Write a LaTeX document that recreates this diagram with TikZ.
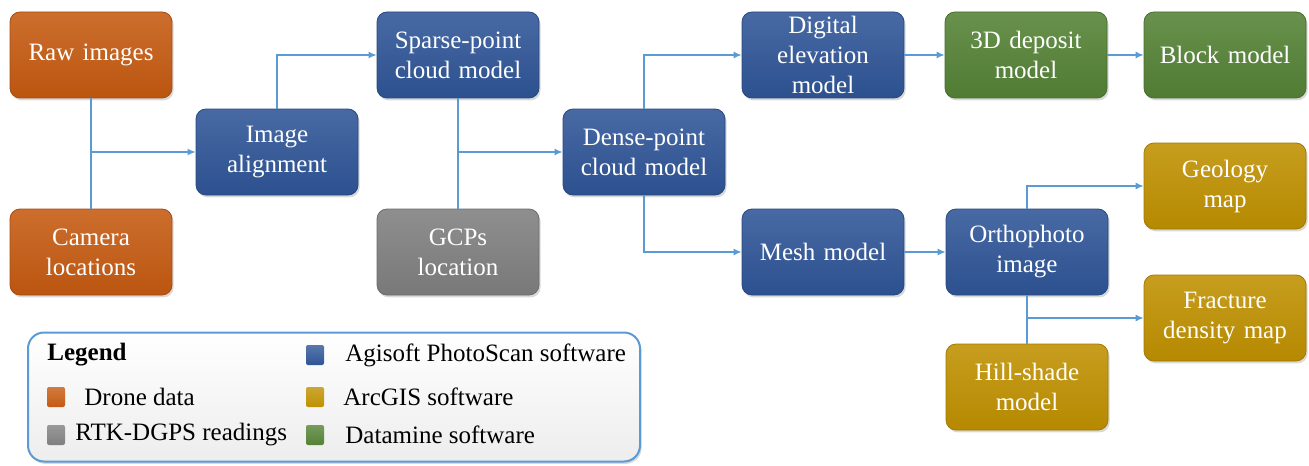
\documentclass[tikz,border=0pt]{standalone}
\usepackage{fontspec}
\setmainfont{Liberation Serif}
\usetikzlibrary{arrows.meta,positioning,shadows}
\definecolor{DOrange}{HTML}{C55A11}
\definecolor{DBlue}{HTML}{2F5597}
\definecolor{DGray}{HTML}{7F7F7F}
\definecolor{DGreen}{HTML}{548235}
\definecolor{DGold}{HTML}{BF9000}
\definecolor{DLine}{HTML}{5B9BD5}

\begin{document}
\begin{tikzpicture}[
  x=0.5pt,y=-0.5pt,
  every node/.style={font=\rmfamily\fontsize{12.5}{15}\selectfont},
  box/.style={rounded corners=5pt,minimum width=81pt,minimum height=43pt,
    text width=78pt,align=center,inner sep=1pt,text=white,
    drop shadow={opacity=0.3,shadow xshift=0.8pt,shadow yshift=-1.2pt}},
  drone/.style={box,draw=DOrange!85!black,top color=DOrange!88!white,bottom color=DOrange!95!black},
  photoscan/.style={box,draw=DBlue!85!black,top color=DBlue!88!white,bottom color=DBlue!95!black},
  rtk/.style={box,draw=DGray!85!black,top color=DGray!88!white,bottom color=DGray!95!black},
  datamine/.style={box,draw=DGreen!85!black,top color=DGreen!88!white,bottom color=DGreen!95!black},
  arcgis/.style={box,draw=DGold!85!black,top color=DGold!88!white,bottom color=DGold!95!black},
  icon/.style={minimum width=9pt,minimum height=10pt,inner sep=0pt,rounded corners=1pt},
  item/.style={anchor=west,inner sep=0pt},
  link/.style={line width=0.65pt,color=DLine},
  arr/.style={-{Latex[length=4pt,width=3.5pt]},line width=0.65pt,color=DLine}
]
  \useasboundingbox (0,0) rectangle (1309,465);

  % boxes
  \node[drone] (raw) at (91,55) {Raw images};
  \node[drone] (cam) at (91,252) {Camera\\locations};
  \node[photoscan] (align) at (277,152) {Image\\alignment};
  \node[photoscan] (sparse) at (458,55) {Sparse-point\\cloud model};
  \node[rtk] (gcp) at (458,252) {GCPs\\location};
  \node[photoscan] (dense) at (644,152) {Dense-point\\cloud model};
  \node[photoscan] (dem) at (823,55) {Digital\\elevation\\model};
  \node[datamine] (deposit) at (1026,55) {3D deposit\\model};
  \node[datamine] (block) at (1225,55) {Block model};
  \node[photoscan] (mesh) at (823,252) {Mesh model};
  \node[photoscan] (ortho) at (1027,252) {Orthophoto\\image};
  \node[arcgis] (geo) at (1225,186) {Geology\\map};
  \node[arcgis] (frac) at (1225,318) {Fracture\\density map};
  \node[arcgis] (hill) at (1027,387) {Hill-shade\\model};

  % connectors
  \draw[link] (raw) -- (cam);
  \draw[arr] (raw |- align) -- (align);
  \draw[arr] (align.north) |- (sparse.west);
  \draw[link] (sparse) -- (gcp);
  \draw[arr] (sparse |- dense) -- (dense);
  \draw[arr] (dense.north) |- (dem.west);
  \draw[arr] (dense.south) |- (mesh.west);
  \draw[arr] (dem) -- (deposit);
  \draw[arr] (deposit) -- (block);
  \draw[arr] (mesh) -- (ortho);
  \draw[arr] (ortho.north) |- (geo.west);
  \draw[link] (ortho) -- (hill);
  \draw[arr] (ortho |- frac) -- (frac);

  % legend
  \node[draw=DLine,line width=1pt,rounded corners=8pt,top color=white,bottom color=gray!14,
    minimum width=306pt,minimum height=64.5pt,
    drop shadow={opacity=0.3,shadow xshift=0.8pt,shadow yshift=-1.2pt}] (legend) at (334,397) {};
  \node[item,font=\rmfamily\bfseries\fontsize{12.5}{15}\selectfont] (legtitle) at (47,355) {Legend};
  \node[icon,top color=DOrange!80!white,bottom color=DOrange] (idrone) at (56,397) {};
  \node[item] (tdrone) at (84,397) {Drone data};
  \node[icon,top color=DGray!80!white,bottom color=DGray] (irtk) at (56,435) {};
  \node[item] (trtk) at (75,435) {RTK-DGPS readings};
  \node[icon,top color=DBlue!80!white,bottom color=DBlue] (iagi) at (315,355) {};
  \node[item] (tagi) at (345,355) {Agisoft PhotoScan software};
  \node[icon,top color=DGold!80!white,bottom color=DGold] (iarc) at (315,397) {};
  \node[item] (tarc) at (343,397) {ArcGIS software};
  \node[icon,top color=DGreen!80!white,bottom color=DGreen] (idm) at (315,435) {};
  \node[item] (tdm) at (345,435) {Datamine software};
\end{tikzpicture}
\end{document}
